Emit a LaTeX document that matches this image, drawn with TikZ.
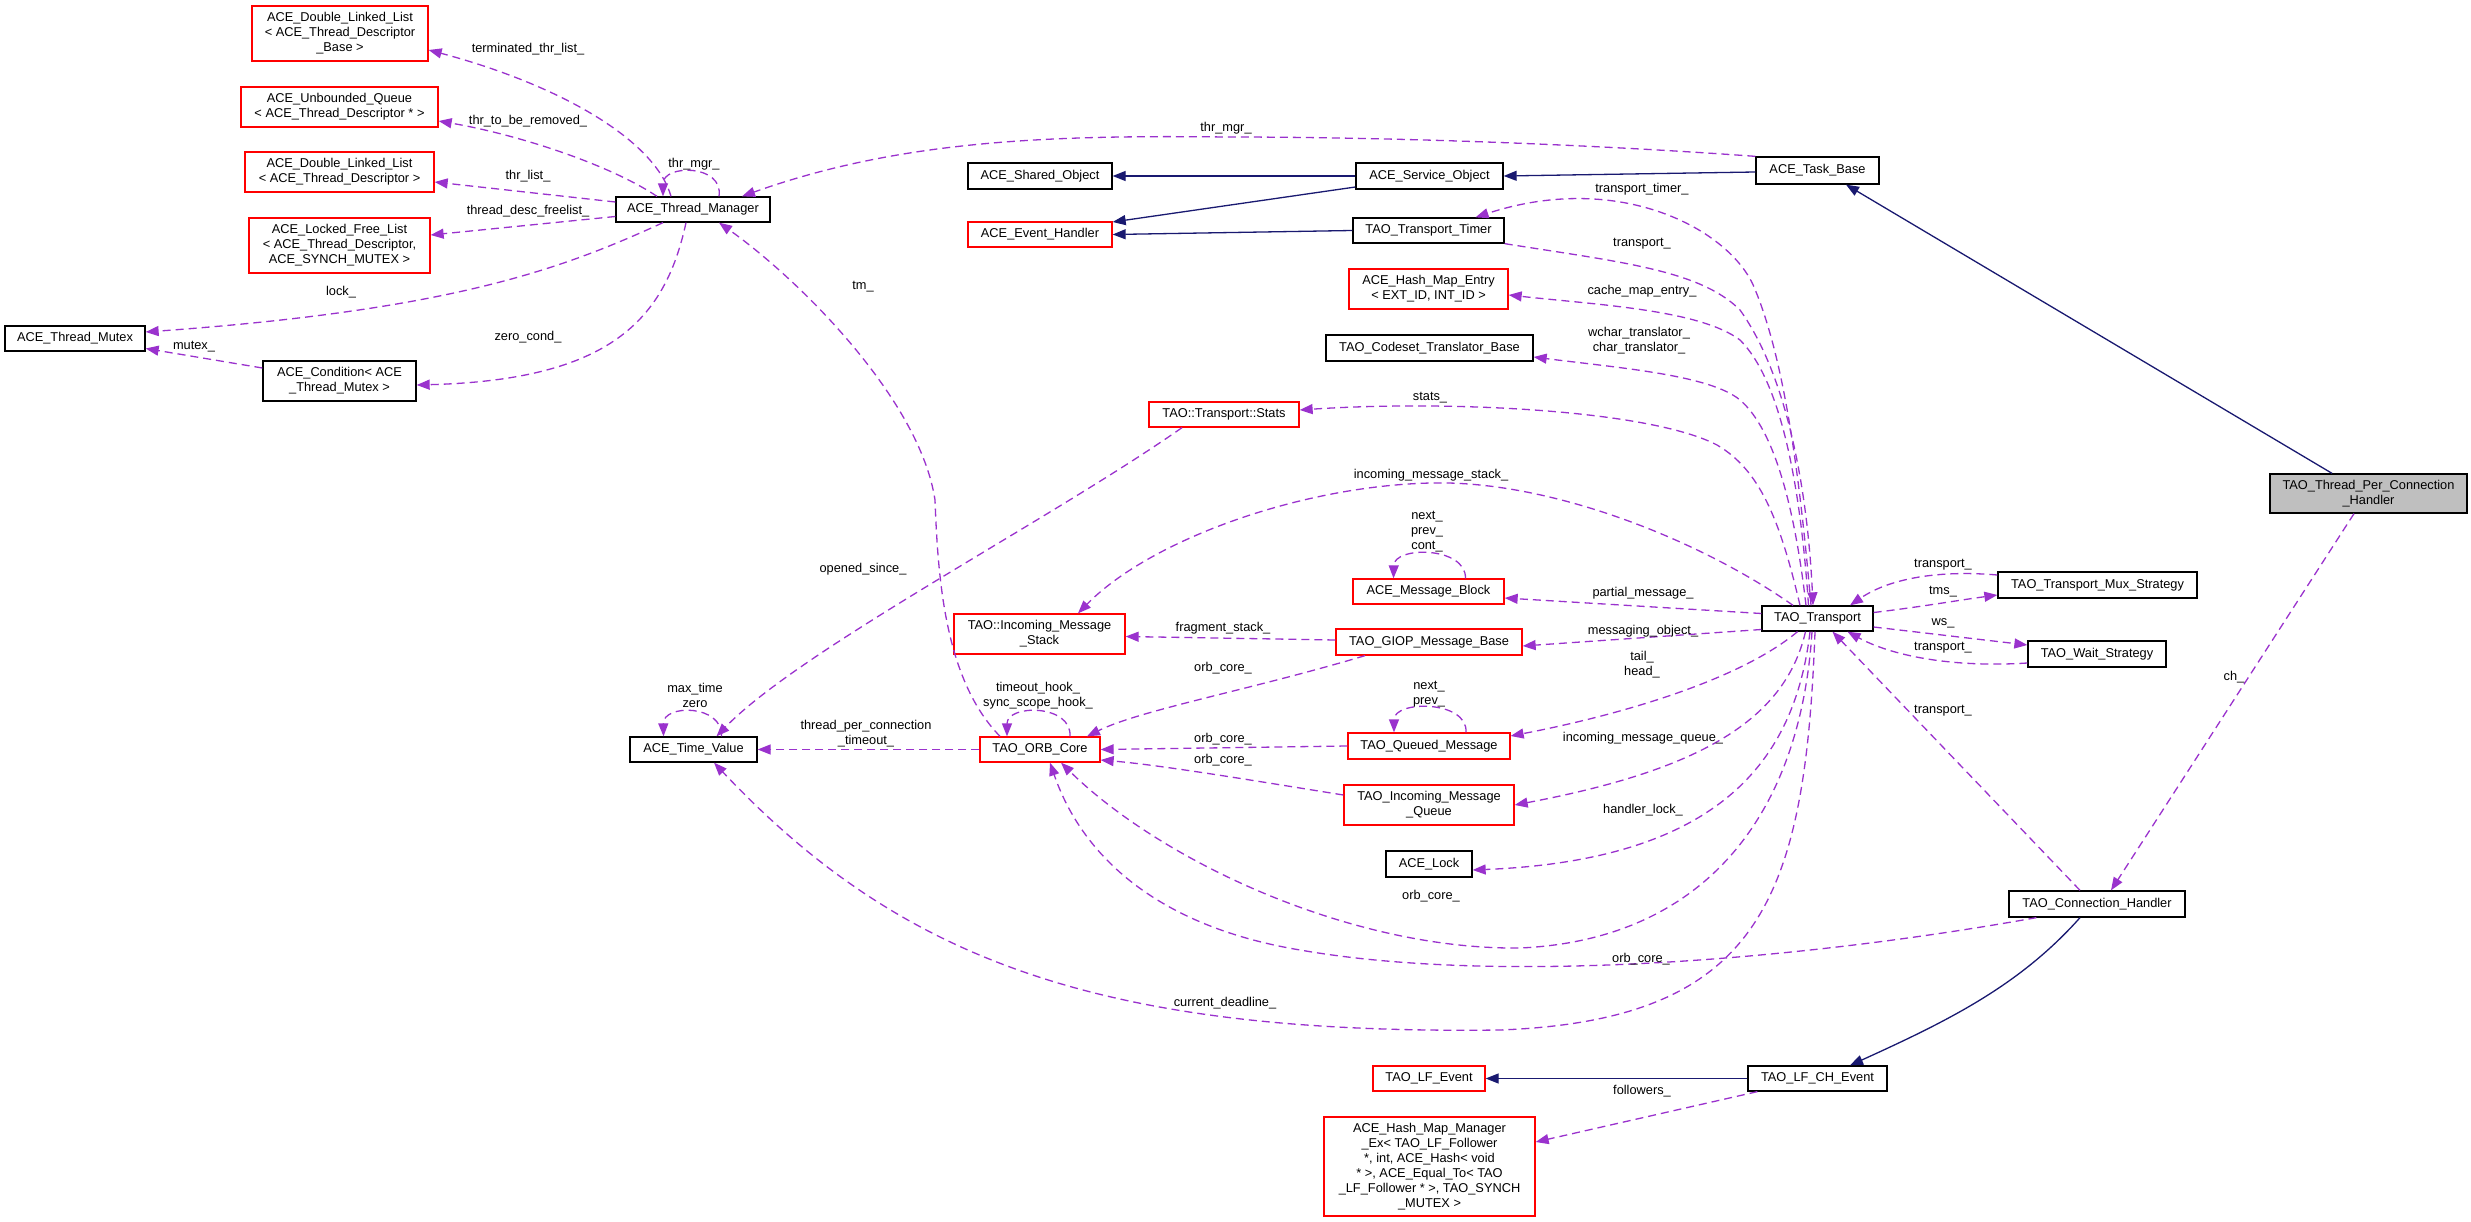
\documentclass[tikz,border=0pt]{standalone}
\usepackage{fontspec}
\setmainfont{Liberation Sans}
\usetikzlibrary{arrows.meta}
\definecolor{memcol}{RGB}{154,50,205}
\definecolor{inhcol}{RGB}{25,25,112}

\begin{document}
\begin{tikzpicture}[
        x=1pt, y=-1pt,
        font=\fontsize{12.8}{15}\selectfont,
        cls/.style={rectangle, draw=black, line width=1.3pt, fill=white, inner sep=0pt, align=center},
        redcls/.style={cls, draw=red},
        maincls/.style={cls, fill=gray!50},
        sz/.style 2 args={minimum width=#1pt, minimum height=#2pt},
        mem/.style={draw=memcol, line width=1.3pt, dash pattern=on 8pt off 5pt, -{Triangle[length=13pt, width=10pt]}},
        inh/.style={draw=inhcol, line width=1.3pt, -{Triangle[length=13pt, width=10pt]}},
        lbl/.style={inner sep=0pt, align=center}
    ]
        \useasboundingbox (0,0) rectangle (2471,1222);

        % Thread manager and its members
        \node[redcls, sz={176}{55}] (dllBase) at (340,33.5) {ACE\_Double\_Linked\_List\\< ACE\_Thread\_Descriptor\\\_Base >};
        \node[redcls, sz={197}{40}] (unbQueue) at (339.5,107) {ACE\_Unbounded\_Queue\\< ACE\_Thread\_Descriptor * >};
        \node[redcls, sz={189}{40}] (dllDesc) at (339.5,172) {ACE\_Double\_Linked\_List\\< ACE\_Thread\_Descriptor >};
        \node[redcls, sz={181}{55}] (freeList) at (339.5,245.5) {ACE\_Locked\_Free\_List\\< ACE\_Thread\_Descriptor,\\ACE\_SYNCH\_MUTEX >};
        \node[cls, sz={154}{25}] (thrMgr) at (693,209.5) {ACE\_Thread\_Manager};
        \node[cls, sz={140}{25}] (thrMutex) at (75,338.5) {ACE\_Thread\_Mutex};
        \node[cls, sz={153}{40}] (condition) at (339.5,381) {ACE\_Condition< ACE\\\_Thread\_Mutex >};
        \node[cls, sz={127}{25}] (timeValue) at (693.5,749.5) {ACE\_Time\_Value};

        % Base classes
        \node[cls, sz={144}{26}] (sharedObj) at (1040,176) {ACE\_Shared\_Object};
        \node[redcls, sz={144}{25}] (eventHandler) at (1040,234.5) {ACE\_Event\_Handler};
        \node[cls, sz={147}{26}] (serviceObj) at (1429.5,176) {ACE\_Service\_Object};
        \node[cls, sz={123}{27}] (taskBase) at (1817.5,170.5) {ACE\_Task\_Base};

        % Transport members
        \node[cls, sz={151}{25}] (transTimer) at (1428.5,230.5) {TAO\_Transport\_Timer};
        \node[redcls, sz={159}{40}] (hashEntry) at (1428.5,289) {ACE\_Hash\_Map\_Entry\\< EXT\_ID, INT\_ID >};
        \node[cls, sz={207}{26}] (codeset) at (1429.5,348) {TAO\_Codeset\_Translator\_Base};
        \node[redcls, sz={150}{25}] (stats) at (1224,414.5) {TAO::Transport::Stats};
        \node[redcls, sz={171}{40}] (msgStack) at (1039.5,634) {TAO::Incoming\_Message\\\_Stack};
        \node[redcls, sz={151}{25}] (msgBlock) at (1428.5,591.5) {ACE\_Message\_Block};
        \node[redcls, sz={186}{26}] (giopBase) at (1429,642) {TAO\_GIOP\_Message\_Base};
        \node[redcls, sz={120}{25}] (orbCore) at (1040,749.5) {TAO\_ORB\_Core};
        \node[redcls, sz={162}{26}] (queuedMsg) at (1429,746) {TAO\_Queued\_Message};
        \node[redcls, sz={170}{40}] (inQueue) at (1429,805) {TAO\_Incoming\_Message\\\_Queue};
        \node[cls, sz={86}{26}] (aceLock) at (1429,864) {ACE\_Lock};
        \node[redcls, sz={112}{25}] (lfEvent) at (1429,1078.5) {TAO\_LF\_Event};
        \node[redcls, sz={211}{99}] (hashMgr) at (1429.5,1166.5) {ACE\_Hash\_Map\_Manager\\\_Ex< TAO\_LF\_Follower\\{}*, int, ACE\_Hash< void\\{}* >, ACE\_Equal\_To< TAO\\\_LF\_Follower * >, TAO\_SYNCH\\\_MUTEX >};

        % Right column
        \node[cls, sz={111}{25}] (transport) at (1817.5,618.5) {TAO\_Transport};
        \node[cls, sz={139}{25}] (lfchEvent) at (1817.5,1078.5) {TAO\_LF\_CH\_Event};
        \node[cls, sz={199}{26}] (muxStrat) at (2097.5,585) {TAO\_Transport\_Mux\_Strategy};
        \node[cls, sz={138}{26}] (waitStrat) at (2097,654) {TAO\_Wait\_Strategy};
        \node[cls, sz={176}{26}] (connHandler) at (2097,904) {TAO\_Connection\_Handler};
        \node[maincls, sz={197}{39}] (tpch) at (2368.5,493.5) {TAO\_Thread\_Per\_Connection\\\_Handler};

        % Inheritance
        \draw[inh] (serviceObj.west) -- (sharedObj.east);
        \draw[inh] ([yshift=-11pt]serviceObj.west) -- ([yshift=12.5pt]eventHandler.east);
        \draw[inh] (transTimer.west) -- (eventHandler.east);
        \draw[inh] ([yshift=-1.5pt]taskBase.west) -- (serviceObj.east);
        \draw[inh] ([xshift=-36.5pt]tpch.north) -- ([xshift=28.5pt]taskBase.south);
        \draw[inh] ([xshift=-17pt]connHandler.south) .. controls (2020,985) and (1950,1020) .. ([xshift=32.5pt]lfchEvent.north);
        \draw[inh] (lfchEvent.west) -- (lfEvent.east);

        % Thread manager members
        \draw[mem] ([xshift=-22pt]thrMgr.north) .. controls (655,140) and (560,85) .. ([yshift=-16.5pt]dllBase.east);
        \draw[mem] ([xshift=-36pt]thrMgr.north) .. controls (610,165) and (520,135) .. ([yshift=-14pt]unbQueue.east);
        \draw[mem] ([yshift=7.5pt]thrMgr.west) -- ([yshift=-10pt]dllDesc.east);
        \draw[mem] ([yshift=-7pt]thrMgr.west) -- ([yshift=10.5pt]freeList.east);
        \draw[mem] ([xshift=-30pt]thrMgr.south) .. controls (560,270) and (450,310) .. ([yshift=6.5pt]thrMutex.east);
        \draw[mem] ([xshift=-7pt]thrMgr.south) .. controls (665,320) and (610,380) .. ([yshift=-4pt]condition.east);
        \draw[mem] ([yshift=13pt]condition.west) -- ([yshift=-10pt]thrMutex.east);
        \draw[mem] ([xshift=26pt]thrMgr.north) .. controls (724,164) and (663,164) .. ([xshift=-30pt]thrMgr.north);
        \draw[mem] (taskBase.north west) .. controls (1600,145) and (1400,137) .. (1226,137) .. controls (1050,135) and (900,140) .. ([xshift=49pt]thrMgr.north);
        \draw[mem] ([xshift=-40pt]orbCore.north) .. controls (945,680) and (938,580) .. (935,500) .. controls (920,400) and (800,280) .. ([xshift=26pt]thrMgr.south);

        % ORB core and time value
        \draw[mem] ([xshift=30pt]orbCore.north) .. controls (1072,704) and (1007,704) .. ([xshift=-33pt]orbCore.north);
        \draw[mem] (orbCore.west) -- (timeValue.east);
        \draw[mem] ([xshift=28pt]timeValue.north) .. controls (723,704) and (663,704) .. ([xshift=-30pt]timeValue.north);
        \draw[mem] ([xshift=-42pt]stats.south) .. controls (1050,520) and (800,650) .. ([xshift=23pt]timeValue.north);

        % Message classes
        \draw[mem] ([yshift=2pt]giopBase.west) -- ([yshift=-2.5pt]msgStack.east);
        \draw[mem] ([xshift=-64pt]giopBase.south) .. controls (1250,690) and (1140,710) .. ([xshift=47pt]orbCore.north);
        \draw[mem] (queuedMsg.west) -- (orbCore.east);
        \draw[mem] ([xshift=37pt]queuedMsg.north) .. controls (1468,700) and (1394,700) .. ([xshift=-35pt]queuedMsg.north);
        \draw[mem] ([xshift=37pt]msgBlock.north) .. controls (1466,546) and (1394,546) .. ([xshift=-35pt]msgBlock.north);
        \draw[mem] ([yshift=10pt]inQueue.west) .. controls (1250,780) and (1160,765) .. ([yshift=-10.5pt]orbCore.east);

        % Transport members
        \draw[mem] ([xshift=-6.5pt]transport.north) .. controls (1800,480) and (1785,360) .. (1754,287) .. controls (1730,230) and (1620,170) .. ([xshift=47pt]transTimer.north);
        \draw[mem] (transTimer.south east) .. controls (1620,262) and (1700,270) .. (1740,310) .. controls (1790,380) and (1808,500) .. ([xshift=-4.5pt]transport.north);
        \draw[mem] ([xshift=-9pt]transport.north) .. controls (1800,480) and (1780,380) .. (1740,340) .. controls (1700,310) and (1600,305) .. ([yshift=-6pt]hashEntry.east);
        \draw[mem] ([xshift=-11.5pt]transport.north) .. controls (1795,510) and (1775,430) .. (1740,400) .. controls (1710,375) and (1620,368) .. ([yshift=-9pt]codeset.east);
        \draw[mem] ([xshift=-17.5pt]transport.north) .. controls (1780,520) and (1760,470) .. (1717,445) .. controls (1650,410) and (1450,400) .. ([yshift=4.5pt]stats.east);
        \draw[mem] ([xshift=-24.5pt]transport.north) .. controls (1700,540) and (1550,480) .. (1431,483) .. controls (1300,486) and (1150,540) .. ([xshift=38.5pt]msgStack.north);
        \draw[mem] ([yshift=5pt]transport.west) -- ([yshift=-6.5pt]msgBlock.east);
        \draw[mem] ([yshift=-11pt]transport.west) -- ([yshift=-4pt]giopBase.east);
        \draw[mem] ([xshift=-20pt]transport.south) .. controls (1740,680) and (1620,715) .. ([yshift=10pt]queuedMsg.east);
        \draw[mem] ([xshift=-12pt]transport.south) .. controls (1785,720) and (1700,770) .. (inQueue.east);
        \draw[mem] ([xshift=-7.5pt]transport.south) .. controls (1795,760) and (1720,860) .. ([yshift=-6pt]aceLock.east);
        \draw[mem] ([xshift=-5.5pt]transport.south) .. controls (1800,820) and (1700,940) .. (1520,948) .. controls (1350,950) and (1160,860) .. ([xshift=21pt]orbCore.south);
        \draw[mem] ([xshift=-2.5pt]transport.south) .. controls (1805,900) and (1760,1020) .. (1500,1030) .. controls (1100,1035) and (900,960) .. ([xshift=20.5pt]timeValue.south);
        \draw[mem] ([yshift=6pt]transport.east) .. controls (1920,607) and (1960,600) .. ([yshift=-10pt]muxStrat.west);
        \draw[mem] ([yshift=10pt]muxStrat.west) .. controls (1940,570) and (1890,578) .. ([xshift=32.5pt]transport.north);
        \draw[mem] ([yshift=-8.5pt]transport.east) -- ([yshift=9pt]waitStrat.west);
        \draw[mem] ([yshift=-9pt]waitStrat.west) .. controls (1950,668) and (1890,655) .. ([xshift=30pt]transport.south);

        % Connection handler
        \draw[mem] ([xshift=-17pt]connHandler.north) -- ([xshift=15pt]transport.south);
        \draw[mem] ([xshift=-14.5pt]tpch.south) -- ([xshift=14pt]connHandler.north);
        \draw[mem] ([xshift=28pt]connHandler.south west) .. controls (1800,960) and (1500,985) .. (1300,950) .. controls (1150,925) and (1080,850) .. ([xshift=10pt]orbCore.south);
        \draw[mem] ([xshift=10pt]lfchEvent.south west) -- ([yshift=24.5pt]hashMgr.east);

        % Edge labels
        \node[lbl] (lTermList) at (528,49) {terminated\_thr\_list\_};
        \node[lbl] (lRemoved) at (528,121) {thr\_to\_be\_removed\_};
        \node[lbl] (lThrList) at (528,176) {thr\_list\_};
        \node[lbl] (lFreelist) at (528,211) {thread\_desc\_freelist\_};
        \node[lbl] (lLock) at (341,292) {lock\_};
        \node[lbl] (lMutex) at (194,347) {mutex\_};
        \node[lbl] (lZeroCond) at (528,337) {zero\_cond\_};
        \node[lbl] (lThrMgrSelf) at (694,164) {thr\_mgr\_};
        \node[lbl] (lThrMgr) at (1226,128) {thr\_mgr\_};
        \node[lbl] (lTm) at (863,287) {tm\_};
        \node[lbl] (lTimer) at (1642,189) {transport\_timer\_};
        \node[lbl] (lTimerTr) at (1642,244) {transport\_};
        \node[lbl] (lCache) at (1642,291) {cache\_map\_entry\_};
        \node[lbl] (lTrans) at (1639,341) {wchar\_translator\_\\char\_translator\_};
        \node[lbl] (lStats) at (1430,398) {stats\_};
        \node[lbl] (lInStack) at (1431,475) {incoming\_message\_stack\_};
        \node[lbl] (lBlockSelf) at (1427,532) {next\_\\prev\_\\cont\_};
        \node[lbl] (lOpened) at (863,569) {opened\_since\_};
        \node[lbl] (lFragment) at (1223,628) {fragment\_stack\_};
        \node[lbl] (lOrbGiop) at (1223,668) {orb\_core\_};
        \node[lbl] (lOrbSelf) at (1038,696) {timeout\_hook\_\\sync\_scope\_hook\_};
        \node[lbl] (lTpcTimeout) at (866,734) {thread\_per\_connection\\\_timeout\_};
        \node[lbl] (lTimeSelf) at (695,695) {max\_time\\zero};
        \node[lbl] (lQueuedSelf) at (1429,694) {next\_\\prev\_};
        \node[lbl] (lOrbQueued) at (1223,739) {orb\_core\_};
        \node[lbl] (lOrbInQueue) at (1223,760) {orb\_core\_};
        \node[lbl] (lPartial) at (1643,593) {partial\_message\_};
        \node[lbl] (lMessaging) at (1643,631) {messaging\_object\_};
        \node[lbl] (lTailHead) at (1642,665) {tail\_\\head\_};
        \node[lbl] (lInQueue) at (1643,738) {incoming\_message\_queue\_};
        \node[lbl] (lHandlerLock) at (1643,810) {handler\_lock\_};
        \node[lbl] (lOrbTransport) at (1431,896) {orb\_core\_};
        \node[lbl] (lOrbConn) at (1641,959) {orb\_core\_};
        \node[lbl] (lDeadline) at (1225,1003) {current\_deadline\_};
        \node[lbl] (lFollowers) at (1642,1091) {followers\_};
        \node[lbl] (lMuxTr) at (1943,565) {transport\_};
        \node[lbl] (lTms) at (1943,592) {tms\_};
        \node[lbl] (lWs) at (1943,623) {ws\_};
        \node[lbl] (lWaitTr) at (1943,648) {transport\_};
        \node[lbl] (lConnTr) at (1943,711) {transport\_};
        \node[lbl] (lCh) at (2234,677) {ch\_};

    \end{tikzpicture}
\end{document}
